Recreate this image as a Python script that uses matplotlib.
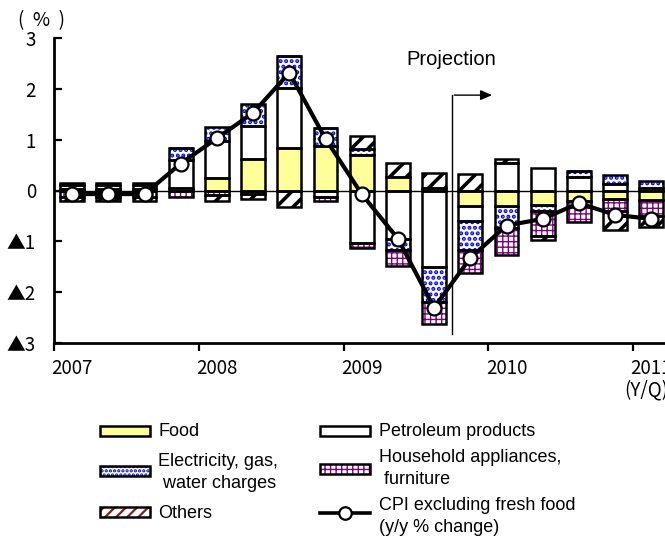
import numpy as np
import matplotlib
matplotlib.use("Agg")
import matplotlib.pyplot as plt
from matplotlib.patches import Rectangle
from matplotlib.lines import Line2D

# quarters 2007Q1 .. 2011Q1, contributions to CPI (y/y %)
quarters = ["2007Q1", "2007Q2", "2007Q3", "2007Q4", "2008Q1", "2008Q2", "2008Q3", "2008Q4",
            "2009Q1", "2009Q2", "2009Q3", "2009Q4", "2010Q1", "2010Q2", "2010Q3", "2010Q4", "2011Q1"]
year_labels = ["2007", "2008", "2009", "2010", "2011"]

food      = [0.03, 0.03, 0.03, 0.05, 0.24, 0.62, 0.84, 0.87, 0.70, 0.26, 0.04, -0.30, -0.30, -0.28, -0.20, -0.17, -0.18]
petroleum = [0.07, 0.08, 0.07, 0.55, 0.73, 0.65, 1.18, -0.12, -1.04, -0.96, -1.50, -0.30, 0.54, 0.44, 0.26, 0.13, 0.05]
elec      = [0.05, 0.04, 0.05, 0.23, 0.28, 0.43, 0.64, 0.37, 0.12, -0.22, -0.69, -0.57, -0.43, -0.13, 0.13, 0.18, 0.13]
household = [-0.12, -0.12, -0.12, -0.12, -0.08, -0.07, 0.0, -0.08, -0.10, -0.31, -0.44, -0.46, -0.55, -0.48, -0.42, -0.24, -0.33]
others    = [-0.08, -0.08, -0.08, 0.0, -0.12, -0.10, -0.33, 0.0, 0.26, 0.28, 0.30, 0.33, 0.08, -0.08, 0.0, -0.36, -0.20]
cpi       = [-0.07, -0.07, -0.07, 0.53, 1.03, 1.53, 2.32, 1.02, -0.07, -0.95, -2.31, -1.33, -0.69, -0.56, -0.25, -0.48, -0.56]

tick_font = ['Noto Sans CJK JP', 'DejaVu Sans']
txt_font = ['Liberation Sans', 'DejaVu Sans']

fig = plt.figure(figsize=(6.65, 5.37), dpi=100)
W, H = 665.0, 537.0
ax = fig.add_axes([54 / W, 1 - 342.7 / H, 615.4 / W, 304.4 / H])

x = np.arange(len(quarters))
bw = 0.66

# series: values, fill, hatch, hatch colour, hatch line width
series = [
    (food, '#FFFF99', None, 'black', 1.0),
    (petroleum, 'white', None, 'black', 1.0),
    (elec, 'white', '...', '#0000FF', 2.0),
    (household, 'white', '+++', '#800080', 1.0),
    (others, 'white', '//', 'black', 2.6),
]

def hatched(container, hlw):
    for p in container:
        if hasattr(p, 'set_hatch_linewidth'):
            p.set_hatch_linewidth(hlw)

pos = np.zeros(len(x))
neg = np.zeros(len(x))
for vals, fc, hatch, hc, hlw in series:
    v = np.array(vals)
    bottom = np.where(v >= 0, pos, neg)
    with plt.rc_context({'hatch.linewidth': hlw}):
        b = ax.bar(x, v, bw, bottom=bottom, color=fc, edgecolor=hc, linewidth=0, hatch=hatch, zorder=2)
    hatched(b, hlw)
    ax.bar(x, v, bw, bottom=bottom, fill=False, edgecolor='black', linewidth=1.8, zorder=3)
    pos = pos + np.where(v >= 0, v, 0)
    neg = neg + np.where(v < 0, v, 0)

ax.axhline(0, color='black', lw=1.0, zorder=4)
ax.plot(x, cpi, color='black', lw=3.0, marker='o', markersize=10,
        markerfacecolor='white', markeredgecolor='black', markeredgewidth=1.6, zorder=5)

# projection marker
ax.plot([10.5, 10.5], [-2.83, 1.88], color='black', lw=1.0, zorder=4)
ax.annotate('', xy=(11.68, 1.88), xytext=(10.48, 1.88),
            arrowprops=dict(arrowstyle='-|>,head_length=0.7,head_width=0.3', lw=1.0, color='black'))
ax.text(10.47, 2.58, 'Projection', ha='center', va='center', fontsize=14.5, family=txt_font)

ax.set_xlim(-0.5, 16.5)
ax.set_ylim(-3, 3)
ax.set_yticks([3, 2, 1, 0, -1, -2, -3])
ax.set_yticklabels(['3', '2', '1', '0', '▲1', '▲2', '▲3'], family=tick_font, fontsize=13.5)
ax.tick_params(axis='y', direction='in', length=6, width=1.6, pad=13)

ax.set_xticks(np.arange(-0.5, 17, 4))
ax.set_xticklabels([])
ax.set_xticks(np.arange(0, 17, 4), minor=True)
ax.set_xticklabels(year_labels, minor=True, family=tick_font, fontsize=13.5)
ax.tick_params(axis='x', which='major', direction='out', length=6, width=1.6)
ax.tick_params(axis='x', which='minor', length=0, pad=11)

for s in ['top', 'right']:
    ax.spines[s].set_visible(False)
for s in ['left', 'bottom']:
    ax.spines[s].set_linewidth(2.0)

fig.text(41 / W, 1 - 21 / H, '(  %  )', ha='center', va='center', fontsize=13.5, family=tick_font)
fig.text(624 / W, 1 - 390 / H, '(Y/Q)', ha='left', va='center', fontsize=13.5, family=tick_font)

# legend drawn in pixel coordinates
lg = fig.add_axes([0, 0, 1, 1], zorder=10)
lg.set_xlim(0, W)
lg.set_ylim(H, 0)
lg.axis('off')

def leg_patch(px, py, fc, hatch, hc, hlw=1.0):
    if hatch:
        with plt.rc_context({'hatch.linewidth': hlw}):
            r = Rectangle((px, py - 5), 50, 10, facecolor=fc, edgecolor=hc, lw=0, hatch=hatch)
        if hasattr(r, 'set_hatch_linewidth'):
            r.set_hatch_linewidth(hlw)
        lg.add_patch(r)
    else:
        lg.add_patch(Rectangle((px, py - 5), 50, 10, facecolor=fc, edgecolor='none'))
    lg.add_patch(Rectangle((px, py - 5), 50, 10, fill=False, edgecolor='black', lw=1.8))

leg_patch(100, 431, '#FFFF99', None, 'black')
leg_patch(100, 471, 'white', '....', '#0000CC', 1.6)
leg_patch(100, 512, 'white', '///', '#8B1A1A', 1.6)
leg_patch(320, 431, 'white', None, 'black')
leg_patch(320, 469, 'white', '+++', '#800080', 1.0)
lg.add_line(Line2D([320, 345, 370], [513, 513, 513], color='black', lw=2.6, marker='o', markevery=[1],
                   markersize=9, markerfacecolor='white', markeredgecolor='black', markeredgewidth=1.6))

fs = 13
lg.text(158, 431, 'Food', va='center', fontsize=fs, family=txt_font)
lg.text(158, 461, 'Electricity, gas,', va='center', fontsize=fs, family=txt_font)
lg.text(158, 483, ' water charges', va='center', fontsize=fs, family=txt_font)
lg.text(158, 514, 'Others', va='center', fontsize=fs, family=txt_font)
lg.text(379, 431, 'Petroleum products', va='center', fontsize=fs, family=txt_font)
lg.text(379, 457, 'Household appliances,', va='center', fontsize=fs, family=txt_font)
lg.text(379, 479, ' furniture', va='center', fontsize=fs, family=txt_font)
lg.text(379, 505, 'CPI excluding fresh food', va='center', fontsize=fs, family=txt_font)
lg.text(379, 527, '(y/y % change)', va='center', fontsize=fs, family=txt_font)

fig.savefig('out.png', dpi=100)
